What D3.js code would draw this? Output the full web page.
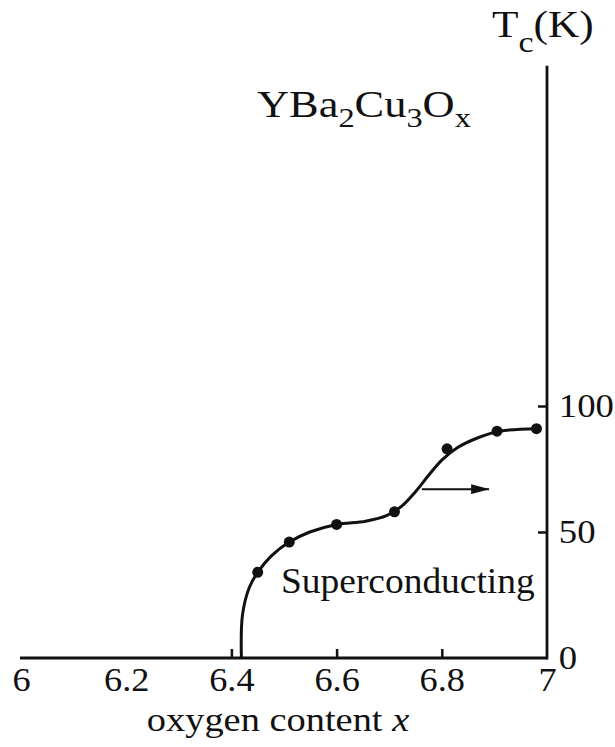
<!DOCTYPE html>
<html>
<head>
<meta charset="utf-8">
<script src="https://cdn.jsdelivr.net/npm/d3@7/dist/d3.min.js"></script>
<style>
  html, body { margin: 0; padding: 0; background: #fff; }
  text { font-family: "Liberation Serif", "Times New Roman", serif; fill: #111; }
</style>
</head>
<body>
<script>
// measured oxygen content x and Tc (K)
const pointX = [6.45, 6.51, 6.60, 6.71, 6.81, 6.905, 6.98];
const pointTc = [34, 46, 53, 58, 83, 90, 91];

// smooth guide curve drawn through the data
const curveX = [6.419, 6.421, 6.434, 6.45, 6.476, 6.51, 6.549, 6.60, 6.655, 6.695, 6.725, 6.75, 6.775, 6.80, 6.83, 6.87, 6.91, 6.98];
const curveTc = [0, 17, 28, 34, 40.5, 46, 50, 53, 54.3, 56.5, 60.5, 66, 72.5, 78.5, 83.5, 87.5, 90, 91];

const xTicks = [6, 6.2, 6.4, 6.6, 6.8, 7];
const xTickLabels = ["6", "6.2", "6.4", "6.6", "6.8", "7"];
const yTicks = [0, 50, 100];

const arrowTc = 67, arrowFrom = 6.762, arrowTo = 6.89;

let svg, x, y;
const W = 615, H = 747;

svg = d3.select("body").append("svg")
  .attr("width", W).attr("height", H);

x = d3.scaleLinear().domain([6, 7]).range([21, 547]);
y = d3.scaleLinear().domain([0, 100]).range([658, 406]);

drawAxes();
drawCurve();
drawPoints();
drawLabels();

function drawAxes() {
  // bottom axis: labels for all ticks, inward marks only inside
  const xa = svg.append("g")
    .attr("transform", `translate(0, ${y(0)})`)
    .call(d3.axisBottom(x).tickValues(xTicks)
      .tickFormat((d, i) => xTickLabels[i])
      .tickSizeInner(-9).tickSizeOuter(0).tickPadding(10));
  xa.select(".domain").remove();
  xa.selectAll(".tick line")
    .attr("stroke", "#111").attr("stroke-width", 2.5)
    .filter(d => d === 6 || d === 6.2 || d === 7).remove();
  xa.selectAll(".tick text")
    .attr("font-size", 33).attr("font-family", "Liberation Serif").attr("fill", "#111")
    .attr("transform", "scale(1.1,1)");

  svg.append("line")
    .attr("x1", x(6) - 1).attr("x2", x(7))
    .attr("y1", y(0)).attr("y2", y(0))
    .attr("stroke", "#111").attr("stroke-width", 2.8);

  // right axis
  const ya = svg.append("g")
    .attr("transform", `translate(${x(7)}, 0)`)
    .call(d3.axisRight(y).tickValues(yTicks)
      .tickSizeInner(-9).tickSizeOuter(0).tickPadding(11));
  ya.select(".domain").remove();
  ya.selectAll(".tick line")
    .attr("stroke", "#111").attr("stroke-width", 2.5)
    .filter(d => d === 0).remove();
  ya.selectAll(".tick text")
    .attr("font-size", 34).attr("font-family", "Liberation Serif").attr("fill", "#111")
    .attr("transform", "scale(1.08,1)");

  svg.append("line")
    .attr("x1", x(7)).attr("x2", x(7))
    .attr("y1", y(0) + 1.4).attr("y2", y(235))
    .attr("stroke", "#111").attr("stroke-width", 2.8);
}

function drawCurve() {
  const data = curveX.map((d, i) => [d, curveTc[i]]);
  const line = d3.line()
    .x(d => x(d[0])).y(d => y(d[1]))
    .curve(d3.curveCatmullRom.alpha(0.5));
  svg.append("path")
    .datum(data)
    .attr("d", line)
    .attr("fill", "none")
    .attr("stroke", "#111")
    .attr("stroke-width", 3);

  // arrow
  svg.append("defs").append("marker")
    .attr("id", "head")
    .attr("viewBox", "0 0 18 10")
    .attr("refX", 18).attr("refY", 5)
    .attr("markerWidth", 9).attr("markerHeight", 5)
    .attr("markerUnits", "strokeWidth")
    .attr("orient", "auto")
    .append("path").attr("d", "M0,0 L18,5 L0,10 z").attr("fill", "#111");
  svg.append("line")
    .attr("x1", x(arrowFrom)).attr("x2", x(arrowTo))
    .attr("y1", y(arrowTc)).attr("y2", y(arrowTc))
    .attr("stroke", "#111").attr("stroke-width", 2)
    .attr("marker-end", "url(#head)");
}

function drawPoints() {
  svg.selectAll("circle.pt")
    .data(pointX)
    .enter().append("circle")
    .attr("class", "pt")
    .attr("cx", d => x(d))
    .attr("cy", (d, i) => y(pointTc[i]))
    .attr("r", 5.5)
    .attr("fill", "#111");
}

// text placed at (px,py) and stretched horizontally by sx
function stretchedText(px, py, size, sx, anchor) {
  return svg.append("g")
    .attr("transform", `translate(${px}, ${py}) scale(${sx},1)`)
    .append("text")
    .attr("font-size", size)
    .attr("text-anchor", anchor || "start");
}

function drawLabels() {
  // title formula
  const t = stretchedText(257, 117, 37, 1.2);
  t.append("tspan").text("YBa");
  t.append("tspan").attr("font-size", 27).attr("dy", 10).text("2");
  t.append("tspan").attr("dy", -10).text("Cu");
  t.append("tspan").attr("font-size", 27).attr("dy", 10).text("3");
  t.append("tspan").attr("dy", -10).text("O");
  t.append("tspan").attr("font-size", 27).attr("dy", 10).text("x");

  // axis title Tc(K)
  const tc = stretchedText(492, 37, 37, 1.17);
  tc.append("tspan").text("T");
  tc.append("tspan").attr("font-size", 29).attr("dy", 15).text("c");
  tc.append("tspan").attr("dy", -15).text("(K)");

  stretchedText(281, 593, 35, 1.07)
    .text("Superconducting");

  const xl = stretchedText(x(6.5) - 6, 731, 34, 1.13, "middle");
  xl.append("tspan").text("oxygen content ");
  xl.append("tspan").attr("font-style", "italic").text("x");
}
</script>
</body>
</html>
